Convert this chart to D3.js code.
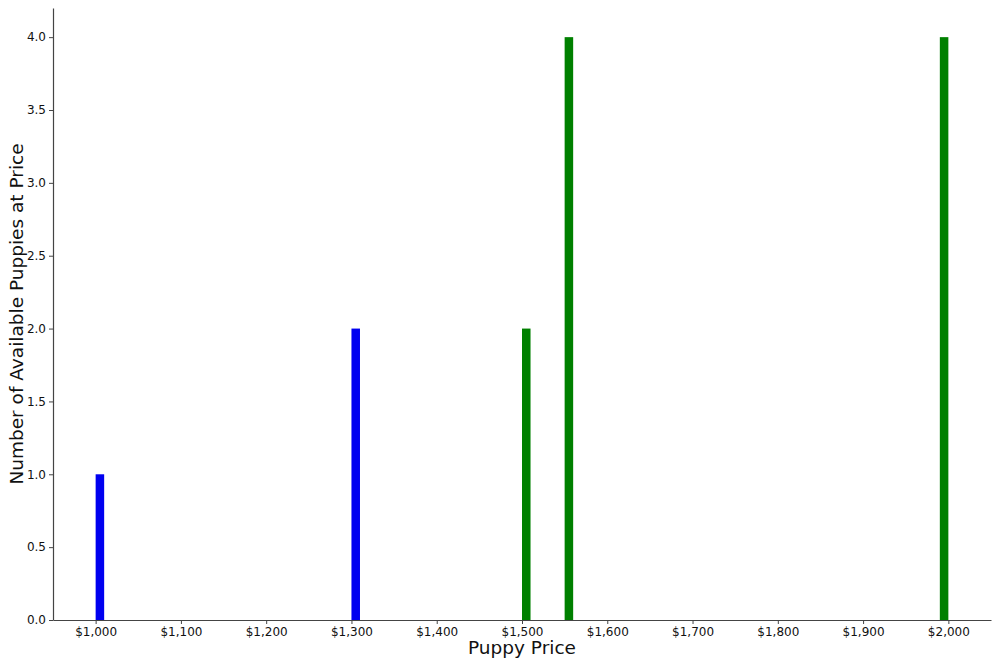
<!DOCTYPE html>
<html>
<head>
<meta charset="utf-8">
<script src="https://cdn.jsdelivr.net/npm/d3@7"></script>
<style>
  body { margin: 0; background: #fff; }
  svg text { font-family: "DejaVu Sans", sans-serif; fill: #111; }
</style>
</head>
<body>
<svg width="1000" height="666"></svg>
<script>
// Puppy prices and how many puppies at each price
const prices = [1000, 1300, 1500, 1550, 2000];
const counts = [1, 2, 2, 4, 4];
const barColors = ["#0000f0", "#0000f0", "#008000", "#008000", "#008000"];
const xTicks = [1000, 1100, 1200, 1300, 1400, 1500, 1600, 1700, 1800, 1900, 2000];
const yTicks = [0, 0.5, 1, 1.5, 2, 2.5, 3, 3.5, 4];

const binWidth = 10;
const margin = { left: 53, right: 9, top: 8, bottom: 46 };
const W = 1000, H = 666;

let svg = d3.select('svg');

let x = d3.scaleLinear().domain([950, 2050]).range([margin.left, W - margin.right]);
let y = d3.scaleLinear().domain([0, 4.2]).range([H - margin.bottom, margin.top]);

// histogram-style bins: last bin is closed on the right
function binStart(p) {
    return Math.min(Math.floor((p - 1000) / binWidth) * binWidth + 1000, 2000 - binWidth);
}

// bars
prices.forEach((p, i) => {
    let b = binStart(p);
    svg.append('rect')
        .attr('x', x(b))
        .attr('width', x(b + binWidth) - x(b))
        .attr('y', y(counts[i]))
        .attr('height', y(0) - y(counts[i]))
        .attr('fill', barColors[i]);
});

// axes
let fmt = d => '$' + d3.format(',')(d);
let xAxis = svg.append('g')
    .attr('transform', `translate(0,${y(0)})`)
    .call(d3.axisBottom(x).tickValues(xTicks).tickFormat(fmt).tickSize(4).tickPadding(3).tickSizeOuter(0));
let yAxis = svg.append('g')
    .attr('transform', `translate(${margin.left},0)`)
    .call(d3.axisLeft(y).tickValues(yTicks).tickFormat(d3.format('.1f')).tickSize(4).tickPadding(3).tickSizeOuter(0));

[xAxis, yAxis].forEach(g => {
    g.selectAll('text').style('font-size', '12px').style('font-family', '"DejaVu Sans", sans-serif').attr('fill', '#111');
    g.select('.domain').attr('stroke', '#444').attr('stroke-width', 1.2);
    g.selectAll('.tick line').attr('stroke', '#444');
});

// axis labels
svg.append('text')
    .attr('x', 522)
    .attr('y', 654)
    .attr('text-anchor', 'middle')
    .style('font-size', '18.5px')
    .text('Puppy Price');

svg.append('text')
    .attr('transform', `translate(23,314) rotate(-90)`)
    .attr('text-anchor', 'middle')
    .style('font-size', '18.5px')
    .text('Number of Available Puppies at Price');
</script>
</body>
</html>
